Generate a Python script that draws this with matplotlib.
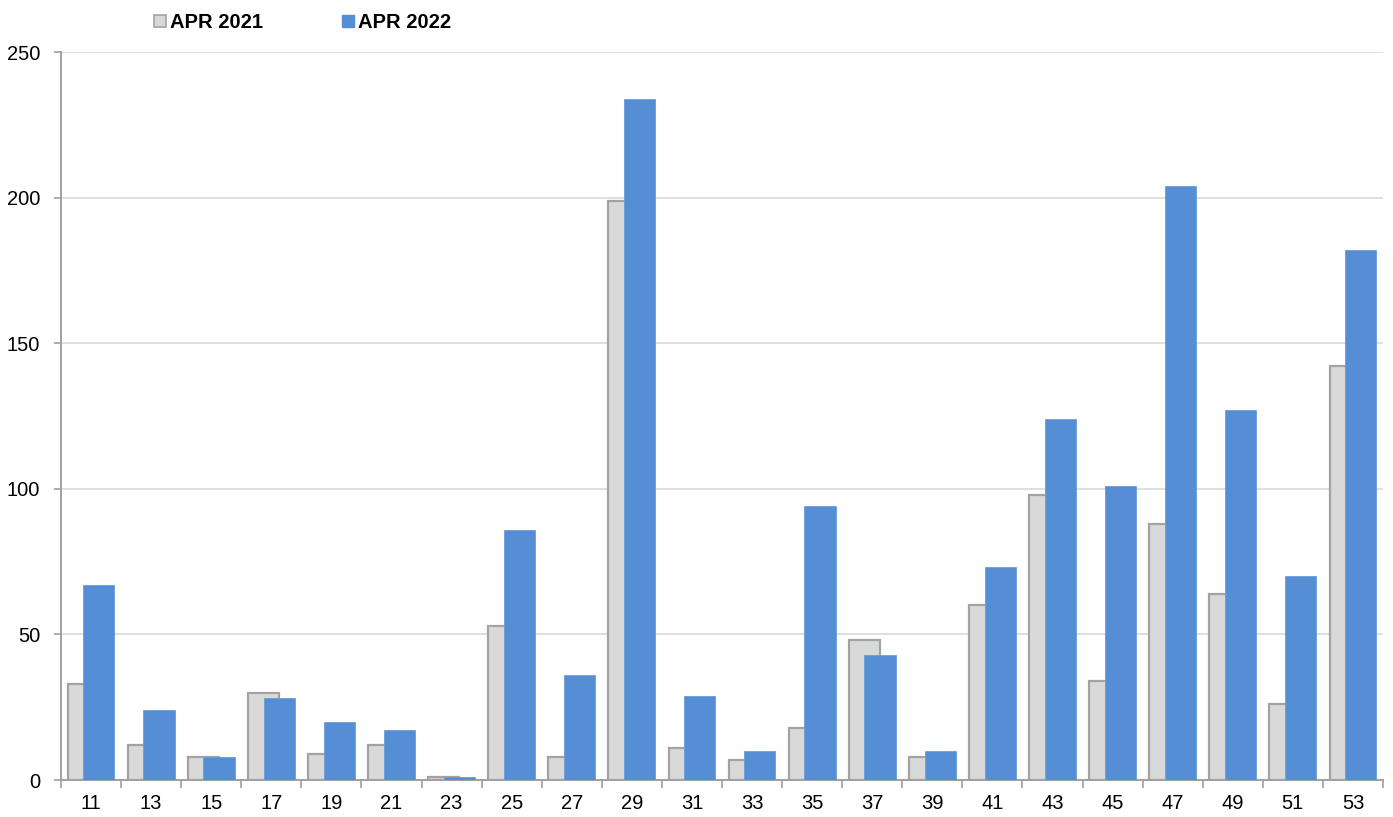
import matplotlib
matplotlib.use("Agg")
import matplotlib.pyplot as plt
import numpy as np
from matplotlib.patches import Patch

plt.rcParams['font.family'] = ['Liberation Sans', 'DejaVu Sans']

categories = ["11", "13", "15", "17", "19", "21", "23", "25", "27", "29", "31",
              "33", "35", "37", "39", "41", "43", "45", "47", "49", "51", "53"]
apr_2021 = [33, 12, 8, 30, 9, 12, 1, 53, 8, 199, 11, 7, 18, 48, 8, 60, 98, 34, 88, 64, 26, 142]
apr_2022 = [67, 24, 8, 28, 20, 17, 1, 86, 36, 234, 29, 10, 94, 43, 10, 73, 124, 101, 204, 127, 70, 182]
labels = ["APR 2021", "APR 2022"]
yticks = [0, 50, 100, 150, 200, 250]

gray_fill = "#d9d9d9"
gray_edge = "#a3a3a3"
blue_fill = "#558ed5"

fig = plt.figure(figsize=(13.93, 8.17), dpi=100)
ax = fig.add_axes([61/1393, 37/817, (1383-61)/1393, (780-52)/817])

x = np.arange(len(categories))
w = 0.52
ax.bar(x - 0.13, apr_2021, width=w, color=gray_fill, edgecolor=gray_edge, linewidth=1.6, zorder=2)
ax.bar(x + 0.13, apr_2022, width=w, color=blue_fill, edgecolor="#6a9ddc", linewidth=0.6, zorder=3)

ax.set_xlim(-0.5, len(categories) - 0.5)
ax.set_ylim(0, 250)
ax.set_yticks(yticks)
ax.set_yticklabels([str(v) for v in yticks], fontsize=14.5)
ax.yaxis.grid(True, color="#d9d9d9", linewidth=1.2, zorder=0)
ax.set_axisbelow(True)

ax.set_xticks(np.arange(-0.5, len(categories), 1.0))
ax.set_xticklabels([])
ax.set_xticks(x, minor=True)
ax.set_xticklabels(categories, minor=True, fontsize=14.5)
ax.tick_params(axis='x', which='major', length=6, color="#a0a0a0", width=1.2)
ax.tick_params(axis='x', which='minor', length=0, pad=10)
ax.tick_params(axis='y', length=5, color="#a0a0a0", width=1.2, pad=10)

for s in ["top", "right"]:
    ax.spines[s].set_visible(False)
for s in ["left", "bottom"]:
    ax.spines[s].set_color("#a0a0a0")
    ax.spines[s].set_linewidth(1.4)

handles = [Patch(facecolor=gray_fill, edgecolor=gray_edge, linewidth=1.2),
           Patch(facecolor=blue_fill, edgecolor=blue_fill)]
leg = fig.legend(handles, labels, ncol=2, loc="upper left", bbox_to_anchor=(141/1393, 1.0),
                 frameon=False, prop={'weight': 'bold', 'size': 14.5},
                 handlelength=0.6, handleheight=0.6, handletextpad=0.2, columnspacing=3.9,
                 borderaxespad=0.25)

fig.savefig("out.png", dpi=100)
